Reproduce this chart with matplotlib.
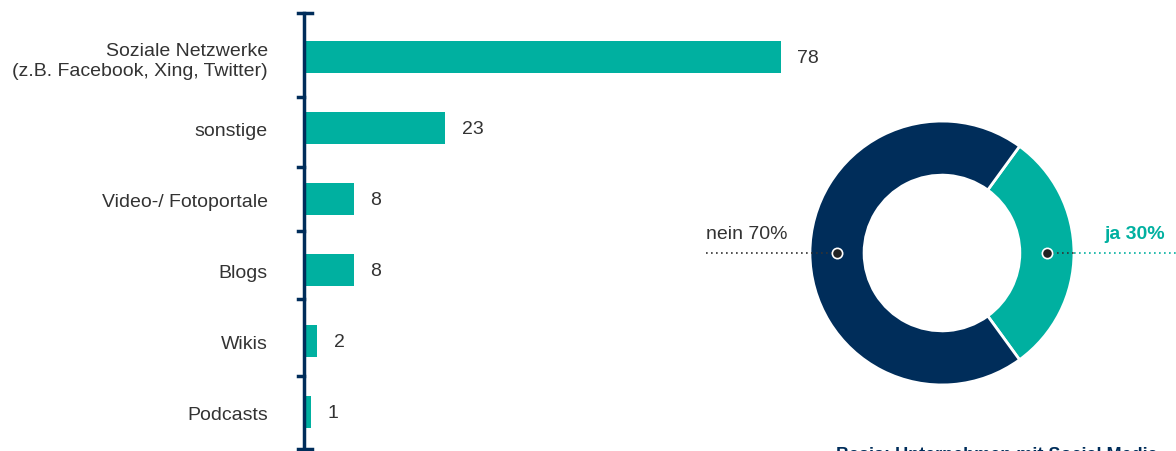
import matplotlib
matplotlib.use('Agg')
import matplotlib.pyplot as plt
from matplotlib.transforms import blended_transform_factory

# Daten
kategorien = ['Soziale Netzwerke\n(z.B. Facebook, Xing, Twitter)', 'sonstige',
              'Video-/ Fotoportale', 'Blogs', 'Wikis', 'Podcasts']
werte = [78, 23, 8, 8, 2, 1]
donut_labels = ['ja 30%', 'nein 70%']
donut_werte = [30, 70]

teal = '#00b0a0'
navy = '#002d5a'
grau = '#333333'

plt.rcParams['font.family'] = ['Liberation Sans', 'DejaVu Sans']

fig = plt.figure(figsize=(11.76, 4.52), dpi=100)

# Balkendiagramm
ax = fig.add_axes([304 / 1176, 2 / 452, 500 / 1176, 436 / 452])
pos = list(range(len(kategorien)))
ax.barh(pos, werte, height=0.45, color=teal, left=0.15)
ax.set_ylim(5.52, -0.62)
ax.set_xlim(0, 82)
for s in ['top', 'right', 'bottom']:
    ax.spines[s].set_visible(False)
ax.spines['left'].set_color(navy)
ax.spines['left'].set_linewidth(2.5)
ax.set_xticks([])
ax.set_yticks(pos)
ax.set_yticklabels(kategorien, fontsize=14, color=grau)
ax.tick_params(axis='y', length=0, pad=26)
for lab in ax.get_yticklabels():
    lab.set_horizontalalignment('right')
    lab.set_multialignment('right')

for i, v in enumerate(werte):
    ax.annotate(str(v), (v + 0.15, i), xytext=(12, 0), textcoords='offset points',
                va='center', ha='left', fontsize=14, color=grau)

# Trennstriche an der Achse
trans = blended_transform_factory(ax.transAxes, ax.transData)
for t in [0.56, 1.55, 2.45, 3.41, 4.49]:
    ax.plot([-0.012, 0], [t, t], color=navy, lw=2.5, transform=trans, clip_on=False)
for t in [-0.62, 5.52]:
    ax.plot([-0.012, 0.016], [t, t], color=navy, lw=2.5, transform=trans, clip_on=False)

# Donut
ax2 = fig.add_axes([700 / 1176, 32 / 452, 476 / 1176, 320 / 452])
ax2.pie(donut_werte, colors=[teal, navy], startangle=-54, counterclock=True,
        radius=1, wedgeprops=dict(width=0.41, edgecolor='white', linewidth=2))
ax2.set_xlim(-1.833, 1.773)
ax2.set_ylim(-1.258, 1.167)
ax2.set_aspect('auto')
ax2.axis('off')

mitte = 1 - 0.41 / 2
ax2.plot([-1.788, -mitte], [0, 0], color=grau, lw=1.2, ls=(0, (1, 2)))
ax2.plot([mitte, 1.0], [0, 0], color=grau, lw=1.2, ls=(0, (1, 2)))
ax2.plot([1.0, 1.773], [0, 0], color=teal, lw=1.2, ls=(0, (1, 2)), clip_on=False)
ax2.scatter([-mitte, mitte], [0, 0], s=55, color='#222222', edgecolor='white',
            linewidth=1.2, zorder=5)
ax2.text(-1.788, 0.08, donut_labels[1], ha='left', va='bottom', fontsize=14, color=grau)
ax2.text(1.689, 0.08, donut_labels[0], ha='right', va='bottom', fontsize=14,
         color=teal, fontweight='bold')

# Fußnote, am unteren Rand abgeschnitten wie im Original
fig.text(836 / 1176, 1 - 447 / 452, 'Basis: Unternehmen mit Social Media', ha='left', va='top',
         fontsize=13, color=navy, fontweight='bold')

fig.savefig('out.png', dpi=100)
